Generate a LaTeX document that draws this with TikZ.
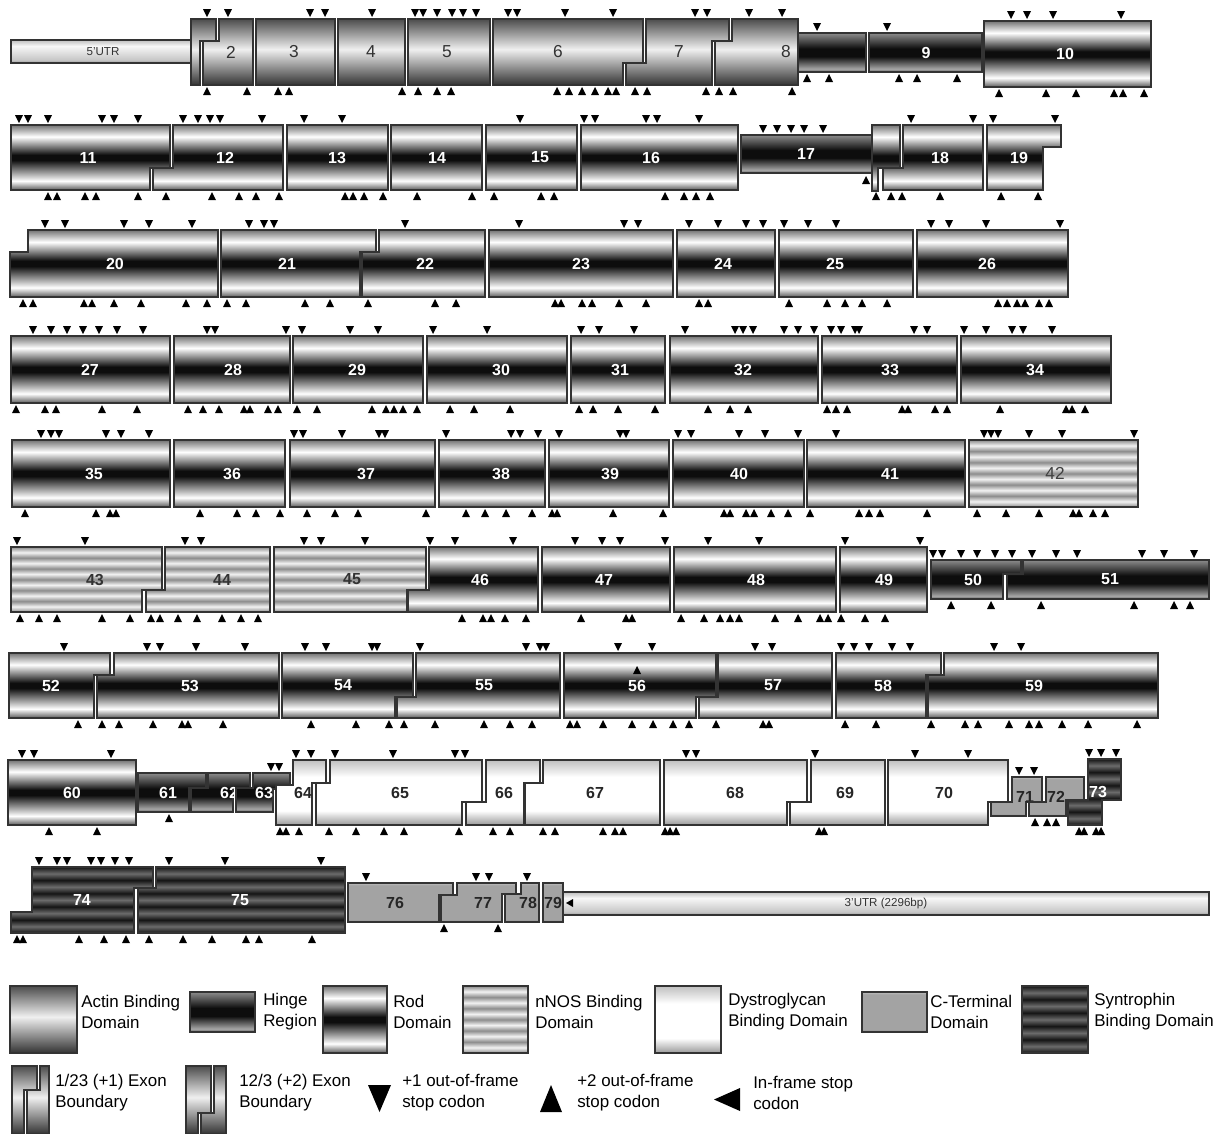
\documentclass[tikz,border=0pt]{standalone}
\usepackage{fontspec}
\setmainfont{Liberation Sans}
\setsansfont{Liberation Sans}
\usepackage{xcolor}

\newcommand{\lblfont}{\fontsize{12}{12}\selectfont\bfseries}
\newcommand{\actfont}{\fontsize{13}{13}\selectfont}
\newcommand{\legfont}{\fontsize{12.7}{15.8}\selectfont}
\newcommand{\utrfont}{\fontsize{8.7}{9}\selectfont}

\pgfdeclareverticalshading{actinsh}{100bp}{color(0bp)=(black!80); color(25bp)=(black!80); color(52bp)=(white!94!black); color(75bp)=(black!70); color(100bp)=(black!70)}
\pgfdeclareverticalshading{rodsh}{100bp}{color(0bp)=(black!65); color(25bp)=(black!65); color(32bp)=(white); color(48bp)=(black!95); color(52bp)=(black!95); color(66bp)=(white); color(75bp)=(black!55); color(100bp)=(black!55)}
\pgfdeclareverticalshading{hingesh}{100bp}{color(0bp)=(black!60); color(25bp)=(black!60); color(29bp)=(white!65!black); color(45bp)=(black!95); color(55bp)=(black!95); color(75bp)=(black!45); color(100bp)=(black!45)}
\pgfdeclareverticalshading{dgsh}{100bp}{color(0bp)=(black!40); color(25bp)=(black!40); color(36bp)=(white); color(62bp)=(white); color(75bp)=(black!25); color(100bp)=(black!25)}
\pgfdeclareverticalshading{ctsh}{100bp}{color(0bp)=(black!50); color(25bp)=(black!50); color(28bp)=(black!36); color(72bp)=(black!36); color(75bp)=(black!25); color(100bp)=(black!25)}
\pgfdeclareverticalshading{nnossh}{100bp}{color(0bp)=(black!45); color(25bp)=(black!45); color(29.17bp)=(white!95!black); color(33.33bp)=(black!45); color(37.5bp)=(white!95!black); color(41.67bp)=(black!45); color(45.83bp)=(white!95!black); color(50bp)=(black!45); color(54.17bp)=(white!95!black); color(58.33bp)=(black!45); color(62.5bp)=(white!95!black); color(66.67bp)=(black!45); color(70.83bp)=(white!95!black); color(75bp)=(black!45); color(100bp)=(black!45)}
\pgfdeclareverticalshading{synsh}{100bp}{color(0bp)=(black!92); color(25bp)=(black!92); color(30bp)=(black!58); color(35bp)=(black!92); color(40bp)=(black!58); color(45bp)=(black!92); color(50bp)=(black!58); color(55bp)=(black!92); color(60bp)=(black!58); color(65bp)=(black!92); color(70bp)=(black!58); color(75bp)=(black!92); color(100bp)=(black!92)}
\pgfdeclareverticalshading{utrsh}{100bp}{color(0bp)=(black!40); color(25bp)=(black!40); color(32bp)=(white!78!black); color(62bp)=(white!97!black); color(75bp)=(black!25); color(100bp)=(black!25)}

\tikzset{
  ex/.style={draw=black!80, line width=0.9pt, line join=miter},
  actin/.style={ex, shading=actinsh},
  actin txt/.style={text=black!80, font=\actfont},
  hinge/.style={ex, shading=hingesh},
  hinge txt/.style={text=white, font=\lblfont},
  rod/.style={ex, shading=rodsh},
  rod txt/.style={text=white, font=\lblfont},
  nnos/.style={ex, shading=nnossh},
  nnos txt/.style={text=black!80, font=\lblfont},
  nnosr/.style={nnos},
  nnosr txt/.style={text=black!75, font=\actfont},
  dg/.style={ex, shading=dgsh},
  dg txt/.style={text=black!85, font=\lblfont},
  ct/.style={ex, shading=ctsh},
  ct txt/.style={text=black!85, font=\lblfont},
  syn/.style={ex, shading=synsh},
  syn txt/.style={text=white, font=\lblfont},
  utr/.style={ex, shading=utrsh},
  legtxt/.style={anchor=west, align=left, inner sep=0pt, font=\legfont},
}

% exon: style, number, x top-left, x bottom-left, x top-right, x bottom-right, yT/yLs/yRs/yB, label x
\def\exonys#1/#2/#3/#4\relax{\def\yT{#1}\def\yLs{#2}\def\yRs{#3}\def\yB{#4}}
\newcommand{\exon}[8]{\exonys#7\relax
  \draw[#1] (#3,\yT) -- (#5,\yT) -- (#5,\yRs) -- (#6,\yRs) -- (#6,\yB) -- (#4,\yB) -- (#4,\yLs) -- (#3,\yLs) -- cycle;
  \node[#1 txt, inner sep=0pt] (e#2) at (#8,{(\yT+\yB)/2}) {#2};}
\newcommand{\dn}[2]{\fill (#1,#2) -- ++(-4,-8) -- ++(8,0) -- cycle;}
\newcommand{\up}[2]{\fill (#1,#2) -- ++(-4,8) -- ++(8,0) -- cycle;}

\begin{document}
\begin{tikzpicture}[x=0.75pt,y=-0.75pt]
\useasboundingbox (0,0) rectangle (1227,1133);

% row 1
\draw[utr] (11,40) rectangle (191,63);
\node[font=\utrfont, text=black!80] (utr5) at (103,52) {5'UTR};
\draw[actin] (191,19) -- (216,19) -- (216,41) -- (200,41) -- (200,85) -- (191,85) -- cycle;
\exon{actin}{2}{219}{203}{253}{253}{19/41/41/85}{231}
\exon{actin}{3}{256}{256}{335}{335}{19/19/19/85}{294}
\exon{actin}{4}{338}{338}{405}{405}{19/19/19/85}{371}
\exon{actin}{5}{408}{408}{490}{490}{19/19/19/85}{447}
\exon{actin}{6}{493}{493}{643}{623}{19/19/63/85}{558}
\exon{actin}{7}{646}{626}{729}{712}{19/63/41/85}{679}
\draw[hinge] (796,33) rectangle (866,72);
\exon{actin}{8}{732}{715}{798}{798}{19/41/41/85}{786}
\exon{hinge}{9}{869}{869}{982}{982}{33/33/33/72}{926}
\exon{rod}{10}{984}{984}{1151}{1151}{21/21/21/87}{1065}

\foreach \x in {207,228,310,325,372,415,423,437,452,463,476,508,517,565,613,695,707,749,782} {\dn{\x}{17}}
\foreach \x in {817,887} {\dn{\x}{31}}
\foreach \x in {1011,1027,1053,1121} {\dn{\x}{19}}
\foreach \x in {207,247,278,289,402,418,437,451,557,569,582,595,608,616,635,647,706,719,733,792} {\up{\x}{87}}
\foreach \x in {807,829,899,917,957} {\up{\x}{74}}
\foreach \x in {999,1046,1076,1114,1123,1144} {\up{\x}{89}}

% row 2
\exon{rod}{11}{11}{11}{170}{150}{125/125/168/190}{88}
\exon{rod}{12}{173}{153}{283}{283}{125/168/168/190}{225}
\exon{rod}{13}{287}{287}{388}{388}{125/125/125/190}{337}
\exon{rod}{14}{391}{391}{482}{482}{125/125/125/190}{437}
\exon{rod}{15}{486}{486}{577}{577}{125/125/125/190}{540}
\exon{rod}{16}{581}{581}{738}{738}{125/125/125/190}{651}
\exon{hinge}{17}{741}{741}{874}{874}{135/135/135/173}{806}
\draw[rod] (872,125) -- (900,125) -- (900,168) -- (878,168) -- (878,191) -- (872,191) -- cycle;
\exon{rod}{18}{903}{883}{983}{983}{125/168/168/190}{940}
\exon{rod}{19}{987}{987}{1061}{1043}{125/125/147/190}{1019}

\foreach \x in {19,28,48,102,114,138,183,198,210,220,262,304,342,520,584,595,646,657,699,911,973,993,1055} {\dn{\x}{123}}
\foreach \x in {763,777,791,804,823} {\dn{\x}{133}}
\foreach \x in {48,57,85,96,138,166,212,239,256,279,345,353,364,383,417,472,494,541,554,665,684,696,710,876,891,902,940,1001,1038} {\up{\x}{192}}
\up{866}{176}

% row 3
\exon{rod}{20}{28}{10}{218}{218}{230/252/252/297}{115}
\exon{rod}{21}{221}{221}{376}{360}{230/230/252/297}{287}
\exon{rod}{22}{379}{362}{485}{485}{230/252/252/297}{425}
\exon{rod}{23}{489}{489}{673}{673}{230/230/230/297}{581}
\exon{rod}{24}{677}{677}{775}{775}{230/230/230/297}{723}
\exon{rod}{25}{779}{779}{913}{913}{230/230/230/297}{835}
\exon{rod}{26}{917}{917}{1068}{1068}{230/230/230/297}{987}

\foreach \x in {45,65,124,149,192,249,264,274,405,519,624,638,689,718,746,763,784,808,836,931,949,986,1060} {\dn{\x}{228}}
\foreach \x in {23,33,84,92,114,141,186,207,227,246,305,330,368,435,456,555,561,582,592,619,646,699,708,789,827,845,862,887,998,1007,1017,1025,1039,1049} {\up{\x}{299}}

% row 4
\exon{rod}{27}{11}{11}{170}{170}{336/336/336/403}{90}
\exon{rod}{28}{174}{174}{290}{290}{336/336/336/403}{233}
\exon{rod}{29}{293}{293}{423}{423}{336/336/336/403}{357}
\exon{rod}{30}{427}{427}{567}{567}{336/336/336/403}{501}
\exon{rod}{31}{571}{571}{665}{665}{336/336/336/403}{620}
\exon{rod}{32}{670}{670}{818}{818}{336/336/336/403}{743}
\exon{rod}{33}{822}{822}{957}{957}{336/336/336/403}{890}
\exon{rod}{34}{961}{961}{1111}{1111}{336/336/336/403}{1035}

\foreach \x in {33,51,67,83,99,117,143,207,215,286,302,350,378,433,487,581,599,634,685,735,743,753,784,798,814,831,841,855,859,914,927,964,986,1012,1023,1052} {\dn{\x}{334}}
\foreach \x in {16,45,56,102,137,188,203,219,244,250,268,278,297,317,372,386,394,403,417,450,474,510,579,593,618,655,708,730,748,827,836,847,902,908,935,947,1000,1066,1072,1085} {\up{\x}{405}}

% row 5
\exon{rod}{35}{12}{12}{170}{170}{440/440/440/507}{94}
\exon{rod}{36}{174}{174}{285}{285}{440/440/440/507}{232}
\exon{rod}{37}{290}{290}{435}{435}{440/440/440/507}{366}
\exon{rod}{38}{439}{439}{545}{545}{440/440/440/507}{501}
\exon{rod}{39}{549}{549}{669}{669}{440/440/440/507}{610}
\exon{rod}{40}{673}{673}{804}{804}{440/440/440/507}{739}
\exon{rod}{41}{807}{807}{965}{965}{440/440/440/507}{890}
\exon{nnosr}{42}{969}{969}{1138}{1138}{440/440/440/507}{1055}

\foreach \x in {41,51,59,106,121,149,294,303,342,379,385,446,511,520,538,559,620,626,678,691,739,765,798,836,984,991,998,1029,1062,1134} {\dn{\x}{438}}
\foreach \x in {25,96,110,116,200,237,256,280,307,335,358,426,466,485,506,532,552,557,613,663,724,730,746,754,771,788,810,859,869,880,927,977,1006,1039,1073,1079,1093,1105} {\up{\x}{509}}

% row 6
\exon{nnos}{43}{11}{11}{162}{142}{547/547/590/612}{95}
\exon{nnos}{44}{165}{146}{270}{270}{547/590/590/612}{222}
\exon{nnos}{45}{274}{274}{426}{407}{547/547/590/612}{352}
\exon{rod}{46}{429}{408}{538}{538}{547/590/590/612}{480}
\exon{rod}{47}{542}{542}{670}{670}{547/547/547/612}{604}
\exon{rod}{48}{674}{674}{836}{836}{547/547/547/612}{756}
\exon{rod}{49}{840}{840}{927}{927}{547/547/547/612}{884}
\exon{hinge}{50}{931}{931}{1021}{1003}{560/560/574/599}{973}
\exon{hinge}{51}{1023}{1007}{1209}{1209}{560/574/574/599}{1110}

\foreach \x in {17,85,185,201,304,321,365,430,455,513,575,602,620,665,708,759,845,920} {\dn{\x}{545}}
\foreach \x in {933,942,961,977,995,1012,1032,1056,1077,1142,1164,1194} {\dn{\x}{558}}
\foreach \x in {20,39,57,102,130,151,160,178,197,222,241,258,462,483,491,505,526,581,626,632,681,704,720,730,739,775,798,820,828,841,865,885} {\up{\x}{614}}
\foreach \x in {951,991,1041,1134,1174,1190} {\up{\x}{601}}

% row 7
\exon{rod}{52}{9}{9}{110}{94}{653/653/675/718}{51}
\exon{rod}{53}{114}{97}{279}{279}{653/675/675/718}{190}
\exon{rod}{54}{282}{282}{413}{395}{653/653/697/718}{343}
\exon{rod}{55}{416}{397}{560}{560}{653/697/697/718}{484}
\exon{rod}{56}{564}{564}{716}{696}{653/653/697/718}{637}
\exon{rod}{57}{718}{699}{832}{832}{653/697/697/718}{773}
\exon{rod}{58}{836}{836}{941}{926}{653/653/675/718}{883}
\exon{rod}{59}{944}{928}{1158}{1158}{653/675/675/718}{1034}

\foreach \x in {64,147,160,196,245,305,326,372,377,420,526,540,546,618,652,755,772,841,854,869,892,910,994,1021} {\dn{\x}{651}}
\foreach \x in {78,102,119,153,182,188,223,311,356,389,404,435,484,510,532,570,577,603,632,653,673,689,716,763,769,845,876,931,965,978,1009,1029,1039,1062,1088,1137} {\up{\x}{720}}
\up{637}{666}

% row 8
\exon{rod}{60}{8}{8}{136}{136}{760/760/760/825}{72}
\exon{hinge}{61}{138}{138}{206}{189}{773/773/788/812}{168}
\exon{hinge}{62}{208}{191}{250}{233}{773/788/788/812}{229}
\exon{hinge}{63}{253}{236}{290}{273}{773/788/789/812}{264}
\exon{dg}{64}{293}{276}{326}{312}{760/785/783/825}{303}
\exon{dg}{65}{330}{316}{482}{462}{760/783/802/825}{400}
\exon{dg}{66}{486}{466}{540}{524}{760/802/783/825}{504}
\exon{dg}{67}{543}{525}{660}{660}{760/783/783/825}{595}
\exon{dg}{68}{664}{664}{807}{787}{760/760/802/825}{735}
\exon{dg}{69}{811}{790}{885}{885}{760/802/802/825}{845}
\exon{dg}{70}{888}{888}{1008}{988}{760/760/802/825}{944}
\exon{ct}{71}{1012}{991}{1042}{1026}{777/802/802/816}{1025}
\exon{ct}{72}{1046}{1029}{1084}{1066}{777/802/800/816}{1056}
\exon{syn}{73}{1088}{1068}{1121}{1102}{759/800/800/825}{1098}

\foreach \x in {22,34,111,296,311,335,393,455,465,686,696,815,915,968} {\dn{\x}{758}}
\foreach \x in {271,279} {\dn{\x}{771}}
\foreach \x in {1019,1034} {\dn{\x}{775}}
\foreach \x in {1089,1101,1116} {\dn{\x}{757}}
\foreach \x in {49,97,280,286,299,329,356,384,404,459,493,510,543,555,603,615,623,665,670,676,819,824,1079,1084,1096,1101} {\up{\x}{827}}
\up{169}{814}
\foreach \x in {1035,1047,1056} {\up{\x}{818}}

% row 9
\exon{syn}{74}{32}{11}{153}{134}{867/912/888/933}{82}
\exon{syn}{75}{156}{138}{345}{345}{867/888/888/933}{240}
\exon{ct}{76}{348}{348}{453}{439}{883/883/895/922}{395}
\exon{ct}{77}{457}{441}{516}{502}{883/895/894/922}{483}
\exon{ct}{78}{521}{505}{539}{539}{883/894/894/922}{528}
\exon{ct}{79}{543}{543}{563}{563}{883/883/883/922}{553}
\draw[utr] (563,892) rectangle (1209,915);
\node[font=\utrfont, text=black!80] (utr3) at (886,903) {3'UTR (2296bp)};
\fill (566,903) -- ++(7,-4) -- ++(0,8) -- cycle;

\foreach \x in {39,57,67,91,101,115,129,169,225,321} {\dn{\x}{865}}
\foreach \x in {366,476,489,527} {\dn{\x}{881}}
\foreach \x in {17,23,79,104,126,149,183,212,246,259,312} {\up{\x}{935}}
\foreach \x in {444,498} {\up{\x}{924}}

% legend
\draw[actin] (10,986) rectangle (77,1053);
\node[legtxt] (lactin) at (81,1012) {Actin Binding\\Domain};
\draw[hinge] (190,992) rectangle (255,1032);
\node[legtxt] (lhinge) at (263,1012) {Hinge\\Region};
\draw[rod] (323,986) rectangle (387,1053);
\node[legtxt] (lrod) at (393,1012) {Rod\\Domain};
\draw[nnos] (463,986) rectangle (528,1053);
\node[legtxt] (lnnos) at (535,1012) {nNOS Binding\\Domain};
\draw[dg] (655,986) rectangle (721,1053);
\node[legtxt] (ldg) at (728,1012) {Dystroglycan\\Binding Domain};
\draw[ct] (862,992) rectangle (927,1032);
\node[legtxt] (lct) at (930,1012) {C-Terminal\\Domain};
\draw[syn] (1022,986) rectangle (1088,1053);
\node[legtxt] (lsyn) at (1094,1012) {Syntrophin\\Binding Domain};

\draw[actin] (12,1066) -- (37,1066) -- (37,1090) -- (24,1090) -- (24,1134) -- (12,1134) -- cycle;
\draw[actin] (40,1066) -- (49,1066) -- (49,1134) -- (27,1134) -- (27,1090) -- (40,1090) -- cycle;
\node[legtxt] (lb1) at (55,1093) {1/23 (+1) Exon\\Boundary};
\draw[actin] (186,1066) -- (211,1066) -- (211,1113) -- (198,1113) -- (198,1134) -- (186,1134) -- cycle;
\draw[actin] (214,1066) -- (226,1066) -- (226,1134) -- (201,1134) -- (201,1113) -- (214,1113) -- cycle;
\node[legtxt] (lb2) at (239,1093) {12/3 (+2) Exon\\Boundary};
\fill (368,1085) -- (391,1085) -- (379.5,1112) -- cycle;
\node[legtxt] (ldn) at (402,1093) {+1 out-of-frame\\stop codon};
\fill (540,1112) -- (562,1112) -- (551,1085) -- cycle;
\node[legtxt] (lup) at (577,1093) {+2 out-of-frame\\stop codon};
\fill (714,1099.5) -- (740,1088) -- (740,1111) -- cycle;
\node[legtxt] (lin) at (753,1093) {In-frame stop\\codon};

\end{tikzpicture}
\end{document}
